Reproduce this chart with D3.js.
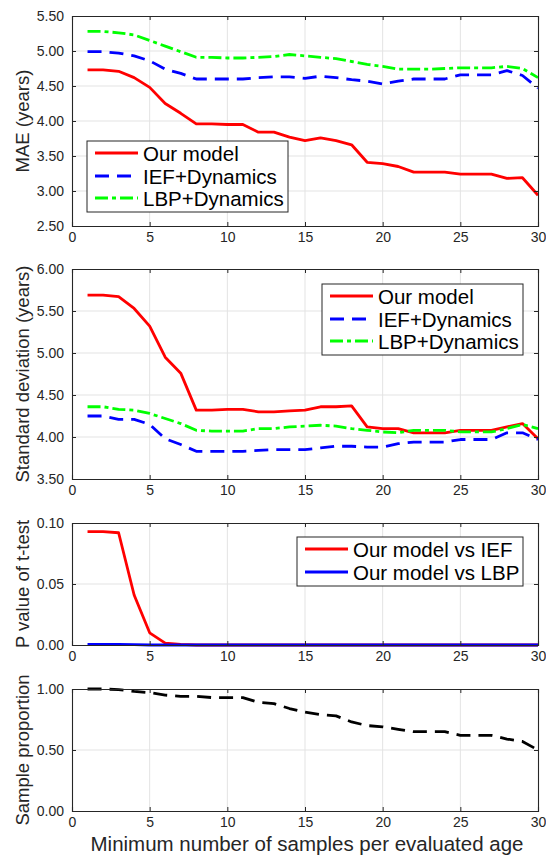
<!DOCTYPE html>
<html>
<head>
<meta charset="utf-8">
<script src="https://cdn.jsdelivr.net/npm/d3@7"></script>
<style>
  body { margin: 0; background: #fff; }
  svg { display: block; font-family: "Liberation Sans", Arial, sans-serif; }
</style>
</head>
<body>
<svg id="chart" width="546" height="855"></svg>
<script>
// x values: minimum number of samples per evaluated age
const samples = [1,2,3,4,5,6,7,8,9,10,11,12,13,14,15,16,17,18,19,20,21,22,23,24,25,26,27,28,29,30];

// MAE (years)
const maeOurs = [4.73,4.73,4.71,4.62,4.48,4.25,4.11,3.96,3.96,3.95,3.95,3.84,3.84,3.77,3.72,3.76,3.72,3.66,3.41,3.39,3.35,3.27,3.27,3.27,3.24,3.24,3.24,3.18,3.19,2.94];
const maeIEF = [4.99,4.99,4.97,4.93,4.86,4.74,4.68,4.60,4.60,4.60,4.60,4.62,4.63,4.63,4.61,4.64,4.62,4.59,4.57,4.53,4.57,4.60,4.60,4.60,4.66,4.66,4.66,4.72,4.65,4.47];
const maeLBP = [5.28,5.28,5.26,5.23,5.15,5.07,4.99,4.91,4.91,4.90,4.90,4.91,4.92,4.95,4.93,4.91,4.89,4.85,4.81,4.78,4.74,4.74,4.74,4.75,4.76,4.76,4.76,4.78,4.75,4.62];

// Standard deviation (years)
const sdOurs = [5.69,5.69,5.67,5.53,5.32,4.95,4.76,4.32,4.32,4.33,4.33,4.30,4.30,4.31,4.32,4.36,4.36,4.37,4.12,4.10,4.10,4.05,4.05,4.05,4.08,4.08,4.08,4.12,4.16,3.98];
const sdIEF = [4.25,4.25,4.21,4.21,4.15,3.98,3.91,3.83,3.83,3.83,3.83,3.84,3.85,3.85,3.85,3.87,3.89,3.89,3.88,3.88,3.92,3.94,3.94,3.94,3.97,3.97,3.97,4.05,4.05,3.97];
const sdLBP = [4.36,4.36,4.33,4.32,4.28,4.22,4.16,4.08,4.07,4.07,4.07,4.10,4.10,4.12,4.13,4.14,4.13,4.10,4.08,4.06,4.05,4.08,4.08,4.08,4.06,4.06,4.06,4.10,4.15,4.10];

// P value of t-test
const pIEF = [0.093,0.093,0.092,0.041,0.010,0.0016,0.0005,0,0,0,0,0,0,0,0,0,0,0,0,0,0,0,0,0,0,0,0,0,0,0];
const pLBP = [0.0005,0.0005,0.0005,0.0003,0,0,0,0,0,0,0,0,0,0,0,0,0,0,0,0,0,0,0,0,0,0,0,0,0,0];

// Sample proportion
const proportion = [1.00,1.00,0.995,0.98,0.97,0.95,0.94,0.94,0.93,0.93,0.93,0.89,0.88,0.84,0.81,0.79,0.78,0.73,0.70,0.69,0.67,0.65,0.65,0.65,0.62,0.62,0.62,0.59,0.57,0.50];

const xTicks = [0,5,10,15,20,25,30];
const maeTicks = [2.5,3,3.5,4,4.5,5,5.5];
const sdTicks = [3.5,4,4.5,5,5.5,6];
const pTicks = [0,0.05,0.1];
const propTicks = [0,0.5,1];

const RED = "#ff0000", BLUE = "#0000ff", GREEN = "#00ff00", AX = "#262626";
const SOLID = null, DASH = "14,8", DASHDOT = "13,4,4,4";

const panels = [
  { top: 16, bottom: 226, domain: [2.5, 5.5], ticks: maeTicks, label: "MAE (years)",
    series: [
      { name: "Our model", values: maeOurs, color: RED, dash: SOLID },
      { name: "IEF+Dynamics", values: maeIEF, color: BLUE, dash: DASH },
      { name: "LBP+Dynamics", values: maeLBP, color: GREEN, dash: DASHDOT }
    ],
    legend: { x: 87, y: 141, w: 201, h: 71 } },
  { top: 269, bottom: 479, domain: [3.5, 6], ticks: sdTicks, label: "Standard deviation (years)",
    series: [
      { name: "Our model", values: sdOurs, color: RED, dash: SOLID },
      { name: "IEF+Dynamics", values: sdIEF, color: BLUE, dash: DASH },
      { name: "LBP+Dynamics", values: sdLBP, color: GREEN, dash: DASHDOT }
    ],
    legend: { x: 322, y: 284, w: 201, h: 71 } },
  { top: 523, bottom: 645, domain: [0, 0.1], ticks: pTicks, label: "P value of t-test",
    series: [
      { name: "Our model vs IEF", values: pIEF, color: RED, dash: SOLID },
      { name: "Our model vs LBP", values: pLBP, color: BLUE, dash: SOLID }
    ],
    legend: { x: 297, y: 537, w: 226, h: 49 } },
  { top: 689, bottom: 811, domain: [0, 1], ticks: propTicks, label: "Sample proportion",
    series: [
      { name: "Sample proportion", values: proportion, color: "#000", dash: DASH }
    ],
    legend: null }
];

const svg = d3.select("#chart");
const left = 72, right = 538;
const xScale = d3.scaleLinear().domain([0, 30]).range([left, right]);

panels.forEach((p, i) => {
  const yScale = d3.scaleLinear().domain(p.domain).range([p.bottom, p.top]);
  const g = svg.append("g").attr("class", "panel-" + i);

  // grid
  g.append("g").selectAll("line.vg").data(xTicks.slice(1, -1)).join("line")
    .attr("x1", d => xScale(d)).attr("x2", d => xScale(d))
    .attr("y1", p.top).attr("y2", p.bottom)
    .attr("stroke", "#e3e3e3").attr("stroke-width", 1);
  g.append("g").selectAll("line.hg").data(p.ticks.slice(1, -1)).join("line")
    .attr("y1", d => yScale(d)).attr("y2", d => yScale(d))
    .attr("x1", left).attr("x2", right)
    .attr("stroke", "#e3e3e3").attr("stroke-width", 1);

  // series
  p.series.forEach(s => {
    const line = d3.line().x((d, j) => xScale(samples[j])).y(d => yScale(d));
    g.append("path")
      .attr("d", line(s.values))
      .attr("fill", "none")
      .attr("stroke", s.color)
      .attr("stroke-width", 2.8)
      .attr("stroke-dasharray", s.dash)
      .attr("stroke-linejoin", "round");
  });

  // axes (inward ticks, matlab style box)
  const yAxis = g.append("g").attr("transform", `translate(${left},0)`)
    .call(d3.axisLeft(yScale).tickValues(p.ticks).tickFormat(d3.format(".2f")).tickSize(-4).tickPadding(8));
  const yAxisR = g.append("g").attr("transform", `translate(${right},0)`)
    .call(d3.axisRight(yScale).tickValues(p.ticks).tickFormat("").tickSize(-4));
  const xAxis = g.append("g").attr("transform", `translate(0,${p.bottom})`)
    .call(d3.axisBottom(xScale).tickValues(xTicks).tickFormat(d3.format("d")).tickSize(-4).tickPadding(6));
  const xAxisT = g.append("g").attr("transform", `translate(0,${p.top})`)
    .call(d3.axisTop(xScale).tickValues(xTicks).tickFormat("").tickSize(-4));
  [yAxis, yAxisR, xAxis, xAxisT].forEach(a => {
    a.select(".domain").attr("stroke", AX).attr("stroke-width", 1.1);
    a.selectAll(".tick line").attr("stroke", AX);
    a.selectAll("text").attr("fill", AX).attr("font-size", 14)
      .attr("font-family", "Liberation Sans, Arial, sans-serif");
  });

  // y label
  g.append("text")
    .attr("transform", `translate(22,${(p.top + p.bottom) / 2}) rotate(-90)`)
    .attr("text-anchor", "middle")
    .attr("dominant-baseline", "central")
    .attr("font-size", 18.5)
    .attr("fill", AX)
    .text(p.label);

  // legend
  if (p.legend) {
    const L = p.legend;
    const lg = g.append("g").attr("transform", `translate(${L.x},${L.y})`);
    lg.append("rect").attr("width", L.w).attr("height", L.h)
      .attr("fill", "#fff").attr("stroke", AX).attr("stroke-width", 1);
    const rowY = [12, 35, 57];
    p.series.forEach((s, k) => {
      lg.append("line")
        .attr("x1", 8).attr("x2", 51).attr("y1", rowY[k]).attr("y2", rowY[k])
        .attr("stroke", s.color).attr("stroke-width", 2.8)
        .attr("stroke-dasharray", s.dash);
      lg.append("text")
        .attr("x", 56).attr("y", rowY[k])
        .attr("dominant-baseline", "central")
        .attr("font-size", 20.5).attr("fill", "#000")
        .text(s.name);
    });
  }
});

// x axis title
svg.append("text")
  .attr("x", (left + right) / 2 + 2).attr("y", 843)
  .attr("text-anchor", "middle").attr("dominant-baseline", "central")
  .attr("font-size", 20.5).attr("fill", AX)
  .text("Minimum number of samples per evaluated age");
</script>
</body>
</html>
